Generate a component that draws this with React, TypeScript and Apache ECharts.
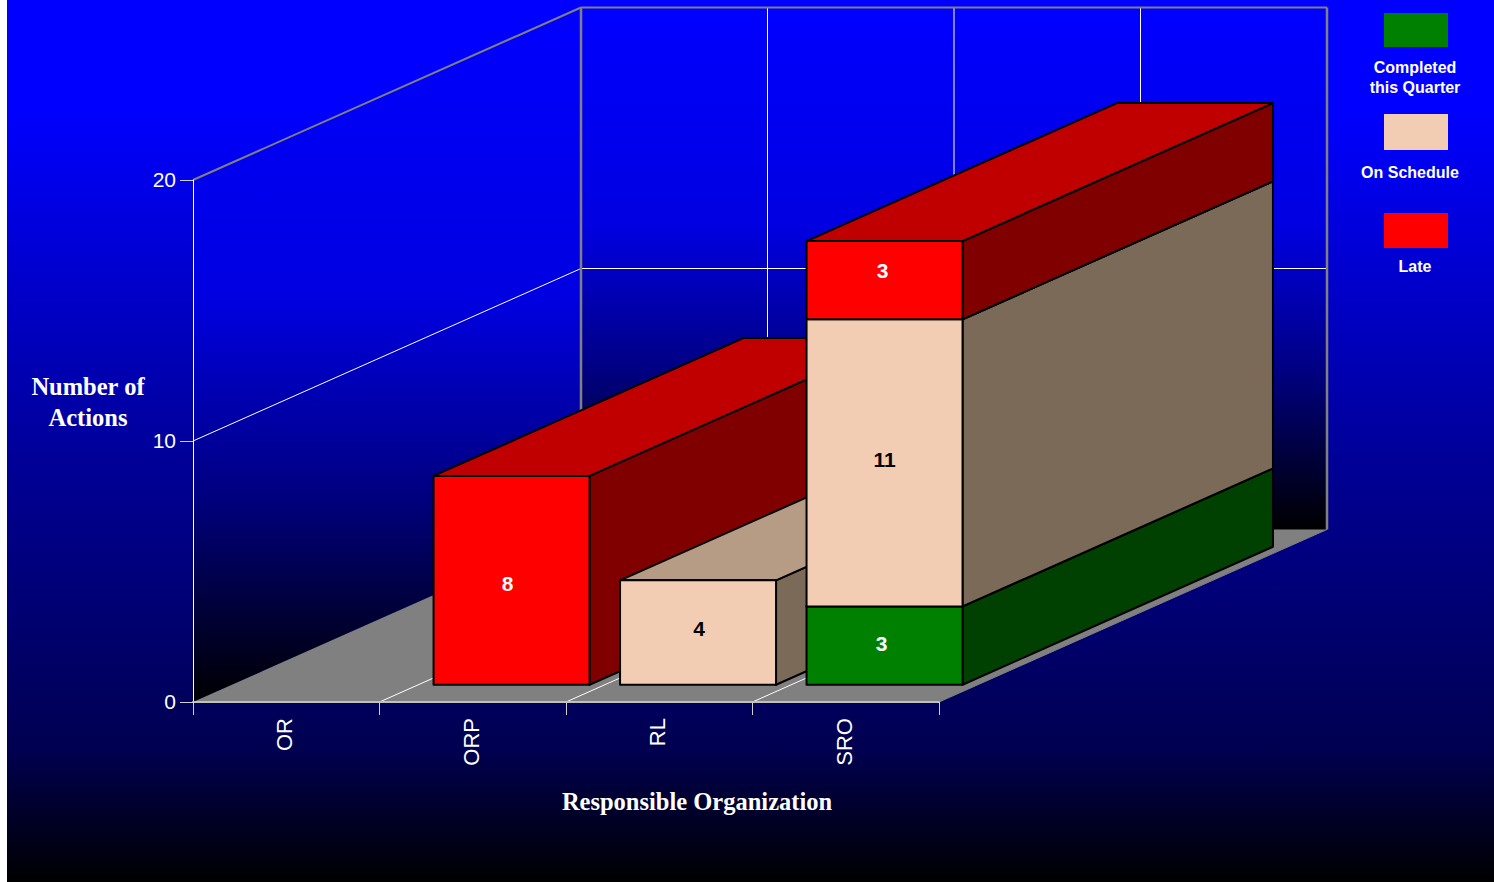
import React, { useEffect, useRef } from "react";
import * as echarts from "echarts";

// Chart content
const organizations = ["OR", "ORP", "RL", "SRO"];
const completedThisQuarter = [0, 0, 0, 3];
const onSchedule = [0, 0, 4, 11];
const late = [0, 8, 0, 3];
const yTicks = [0, 10, 20];

const stackNames = ["Completed\nthis Quarter", "On Schedule", "Late"];
const stackValues = [completedThisQuarter, onSchedule, late];

// face colours per stack: front, side, top, label
const faces = [
  { front: "#008000", side: "#004000", top: "#006000", label: "#ffffff" },
  { front: "#F3CDB3", side: "#7C6A58", top: "#B69B85", label: "#000000" },
  { front: "#FF0000", side: "#800000", top: "#C00000", label: "#ffffff" },
];

// hand placement of value labels relative to the centre of the front face
const labelNudge: Record<string, [number, number]> = {
  "2:1": [-4, 3],
  "1:2": [1, -4],
  "0:3": [-3, -2],
  "1:3": [0, -3],
  "2:3": [-2, -10],
};

// page offset of the chart canvas
const PAGE_X = 7;

// oblique projection of the depth axis, in pixels
const DEPTH_X = 388;
const DEPTH_Y = -172.5;
const BAR_DEPTH_START = 0.1;
const BAR_DEPTH_END = 0.9;
const BAR_WIDTH_RATIO = 156 / 186.5;

const SANS = "'Liberation Sans', Arial, sans-serif";
const SERIF = "'Liberation Serif', 'Times New Roman', serif";

// Back wall, side wall, floor and their grid lines, placed through the axes.
function renderFrame(_params: any, api: any) {
  const band = api.size([1, 0])[0];
  const n = organizations.length;
  const maxTick = yTicks[yTicks.length - 1];
  const [x0, y0] = api.coord([0, 0]);
  const left = x0 - band / 2;
  const right = left + band * n;
  const yTop = api.coord([0, maxTick])[1];
  const grey = "#808080";
  const gridLine = "#ffffff";

  const line = (x1: number, y1: number, x2: number, y2: number, stroke: string, lineWidth: number) => ({
    type: "line",
    shape: { x1, y1, x2, y2 },
    style: { stroke, lineWidth, fill: "none" },
  });
  const wallFill = () =>
    new echarts.graphic.LinearGradient(0, 0, 0, 1, [
      { offset: 0, color: "#0000ff" },
      { offset: 0.42, color: "#0000e0" },
      { offset: 0.7, color: "#000080" },
      { offset: 1, color: "#000000" },
    ]);

  const children: any[] = [
    {
      type: "polygon",
      shape: {
        points: [
          [left, y0],
          [left + DEPTH_X, y0 + DEPTH_Y],
          [left + DEPTH_X, yTop + DEPTH_Y],
          [left, yTop],
        ],
      },
      style: { fill: wallFill() },
    },
    {
      type: "polygon",
      shape: {
        points: [
          [left + DEPTH_X, y0 + DEPTH_Y],
          [right + DEPTH_X, y0 + DEPTH_Y],
          [right + DEPTH_X, yTop + DEPTH_Y],
          [left + DEPTH_X, yTop + DEPTH_Y],
        ],
      },
      style: { fill: wallFill() },
    },
    {
      type: "polygon",
      shape: {
        points: [
          [left, y0],
          [right, y0],
          [right + DEPTH_X, y0 + DEPTH_Y],
          [left + DEPTH_X, y0 + DEPTH_Y],
        ],
      },
      style: { fill: grey },
    },
  ];

  for (let i = 1; i < n; i++) {
    const x = left + band * i;
    children.push(line(x, y0, x + DEPTH_X, y0 + DEPTH_Y, gridLine, 1));
    children.push(line(x + DEPTH_X, y0 + DEPTH_Y, x + DEPTH_X, yTop + DEPTH_Y, gridLine, 1));
  }
  yTicks
    .filter((t) => t > 0 && t < maxTick)
    .forEach((t) => {
      const y = api.coord([0, t])[1];
      children.push(line(left, y, left + DEPTH_X, y + DEPTH_Y, gridLine, 1));
      children.push(line(left + DEPTH_X, y + DEPTH_Y, right + DEPTH_X, y + DEPTH_Y, gridLine, 1));
    });

  children.push(line(left, yTop, left + DEPTH_X, yTop + DEPTH_Y, grey, 2));
  children.push(line(left + DEPTH_X, yTop + DEPTH_Y, right + DEPTH_X, yTop + DEPTH_Y, grey, 2));
  children.push(line(left + DEPTH_X, yTop + DEPTH_Y, left + DEPTH_X, y0 + DEPTH_Y, grey, 2.5));
  children.push(line(right + DEPTH_X, yTop + DEPTH_Y, right + DEPTH_X, y0 + DEPTH_Y, grey, 2.5));
  children.push(line(right, y0, right + DEPTH_X, y0 + DEPTH_Y, grey, 1));

  return { type: "group", children };
}

// One stacked block: front, side and top faces, plus its value on the front.
function renderBlock(stackIndex: number) {
  return (_params: any, api: any) => {
    const cat = api.value(0);
    const base = api.value(1);
    const top = api.value(2);
    if (top <= base) return null;

    const band = api.size([1, 0])[0];
    const width = band * BAR_WIDTH_RATIO;
    const [cx, yBase0] = api.coord([cat, base]);
    const yTop0 = api.coord([cat, top])[1];
    const xLeft = cx - width / 2 + DEPTH_X * BAR_DEPTH_START;
    const xRight = xLeft + width;
    const yBase = yBase0 + DEPTH_Y * BAR_DEPTH_START;
    const yTop = yTop0 + DEPTH_Y * BAR_DEPTH_START;
    const dx = DEPTH_X * (BAR_DEPTH_END - BAR_DEPTH_START);
    const dy = DEPTH_Y * (BAR_DEPTH_END - BAR_DEPTH_START);
    const face = faces[stackIndex];
    const order = cat * 100 + stackIndex * 10;
    const edge = { stroke: "#000000", lineWidth: 2, lineJoin: "round" };
    const [nudgeX, nudgeY] = labelNudge[`${stackIndex}:${cat}`] || [0, 0];

    return {
      type: "group",
      children: [
        {
          type: "polygon",
          z2: order + 1,
          shape: { points: [[xRight, yBase], [xRight + dx, yBase + dy], [xRight + dx, yTop + dy], [xRight, yTop]] },
          style: { fill: face.side, ...edge },
        },
        {
          type: "polygon",
          z2: order + 1,
          shape: { points: [[xLeft, yTop], [xRight, yTop], [xRight + dx, yTop + dy], [xLeft + dx, yTop + dy]] },
          style: { fill: face.top, ...edge },
        },
        {
          type: "polygon",
          z2: order + 2,
          shape: { points: [[xLeft, yBase], [xRight, yBase], [xRight, yTop], [xLeft, yTop]] },
          style: { fill: face.front, ...edge },
        },
        {
          type: "text",
          z2: order + 3,
          style: {
            text: String(top - base),
            x: (xLeft + xRight) / 2 + nudgeX,
            y: (yBase + yTop) / 2 + nudgeY,
            align: "center",
            verticalAlign: "middle",
            fill: face.label,
            font: `bold 21px ${SANS}`,
          },
        },
      ],
    };
  };
}

function buildBlocks(stackIndex: number) {
  return organizations.map((_, cat) => {
    let base = 0;
    for (let s = 0; s < stackIndex; s++) base += stackValues[s][cat];
    return [cat, base, base + stackValues[stackIndex][cat]];
  });
}

// Key in the top right corner: swatch above its caption.
const keyLayout = [
  { y: 13, h: 34, textX: 1415, textY: 77 },
  { y: 114, h: 36, textX: 1410, textY: 172 },
  { y: 213, h: 35, textX: 1415, textY: 266 },
];

function buildKey() {
  const items: any[] = [];
  stackNames.forEach((name, i) => {
    const k = keyLayout[i];
    items.push({
      type: "rect",
      shape: { x: 1384 - PAGE_X, y: k.y, width: 64, height: k.h },
      style: { fill: faces[i].front },
    });
    items.push({
      type: "text",
      style: {
        text: name,
        x: k.textX - PAGE_X,
        y: k.textY,
        align: "center",
        verticalAlign: "middle",
        fill: "#ffffff",
        font: `bold 16px ${SANS}`,
        lineHeight: 20,
      },
    });
  });
  return items;
}

export default function App() {
  const ref = useRef<HTMLDivElement>(null);

  useEffect(() => {
    document.body.style.margin = "0";
    document.body.style.background = "#ffffff";
    const chart = echarts.init(ref.current!, null, { renderer: "svg" });
    chart.setOption({
      animation: false,
      backgroundColor: new echarts.graphic.LinearGradient(0, 0, 0, 1, [
        { offset: 0, color: "#0000ff" },
        { offset: 0.12, color: "#0000ff" },
        { offset: 0.55, color: "#000090" },
        { offset: 0.85, color: "#000050" },
        { offset: 1, color: "#000000" },
      ]),
      grid: { left: 193 - PAGE_X, top: 180, width: 746, height: 522, containLabel: false },
      xAxis: {
        type: "category",
        data: organizations,
        boundaryGap: true,
        z: 5,
        axisLine: { onZero: false, lineStyle: { color: "#c0c0c0", width: 2 } },
        axisTick: { show: true, length: 13, lineStyle: { color: "#d0d0d0", width: 1 } },
        axisLabel: {
          interval: 0,
          rotate: 90,
          margin: 16,
          formatter: (v: string) => `{tick|${v}}`,
          rich: {
            tick: { color: "#ffffff", fontFamily: SANS, fontSize: 22, padding: [0, 0, 3, 0] },
          },
        },
      },
      yAxis: {
        type: "value",
        min: 0,
        max: 20,
        interval: 10,
        z: 5,
        splitLine: { show: false },
        axisLine: { show: true, lineStyle: { color: "#ffffff", width: 1 } },
        axisTick: { show: true, length: 13, lineStyle: { color: "#d0d0d0", width: 1 } },
        axisLabel: {
          margin: 17,
          formatter: (v: number) => `{tick|${v}}`,
          rich: {
            tick: { color: "#ffffff", fontFamily: SANS, fontSize: 21, padding: [0, 0, 2, 0] },
          },
        },
      },
      series: [
        {
          type: "custom",
          name: "frame",
          z: 1,
          silent: true,
          clip: false,
          renderItem: renderFrame,
          data: [[0, 0]],
          encode: { x: 0, y: 1 },
        },
        ...stackNames.map((name, i) => ({
          type: "custom",
          name,
          z: 6,
          clip: false,
          renderItem: renderBlock(i),
          data: buildBlocks(i),
          encode: { x: 0, y: [1, 2] },
        })),
      ],
      graphic: [
        {
          type: "text",
          style: {
            text: "Number of\nActions",
            x: 88 - PAGE_X,
            y: 402,
            align: "center",
            verticalAlign: "middle",
            fill: "#ffffff",
            font: `bold 24.5px ${SERIF}`,
            lineHeight: 31,
          },
        },
        {
          type: "text",
          style: {
            text: "Responsible Organization",
            x: 697 - PAGE_X,
            y: 801,
            align: "center",
            verticalAlign: "middle",
            fill: "#ffffff",
            font: `bold 24.5px ${SERIF}`,
          },
        },
        ...buildKey(),
      ],
    });
    return () => chart.dispose();
  }, []);

  return (
    <div
      ref={ref}
      style={{ position: "fixed", left: PAGE_X, top: 0, width: 1494 - PAGE_X, height: 882 }}
    />
  );
}
